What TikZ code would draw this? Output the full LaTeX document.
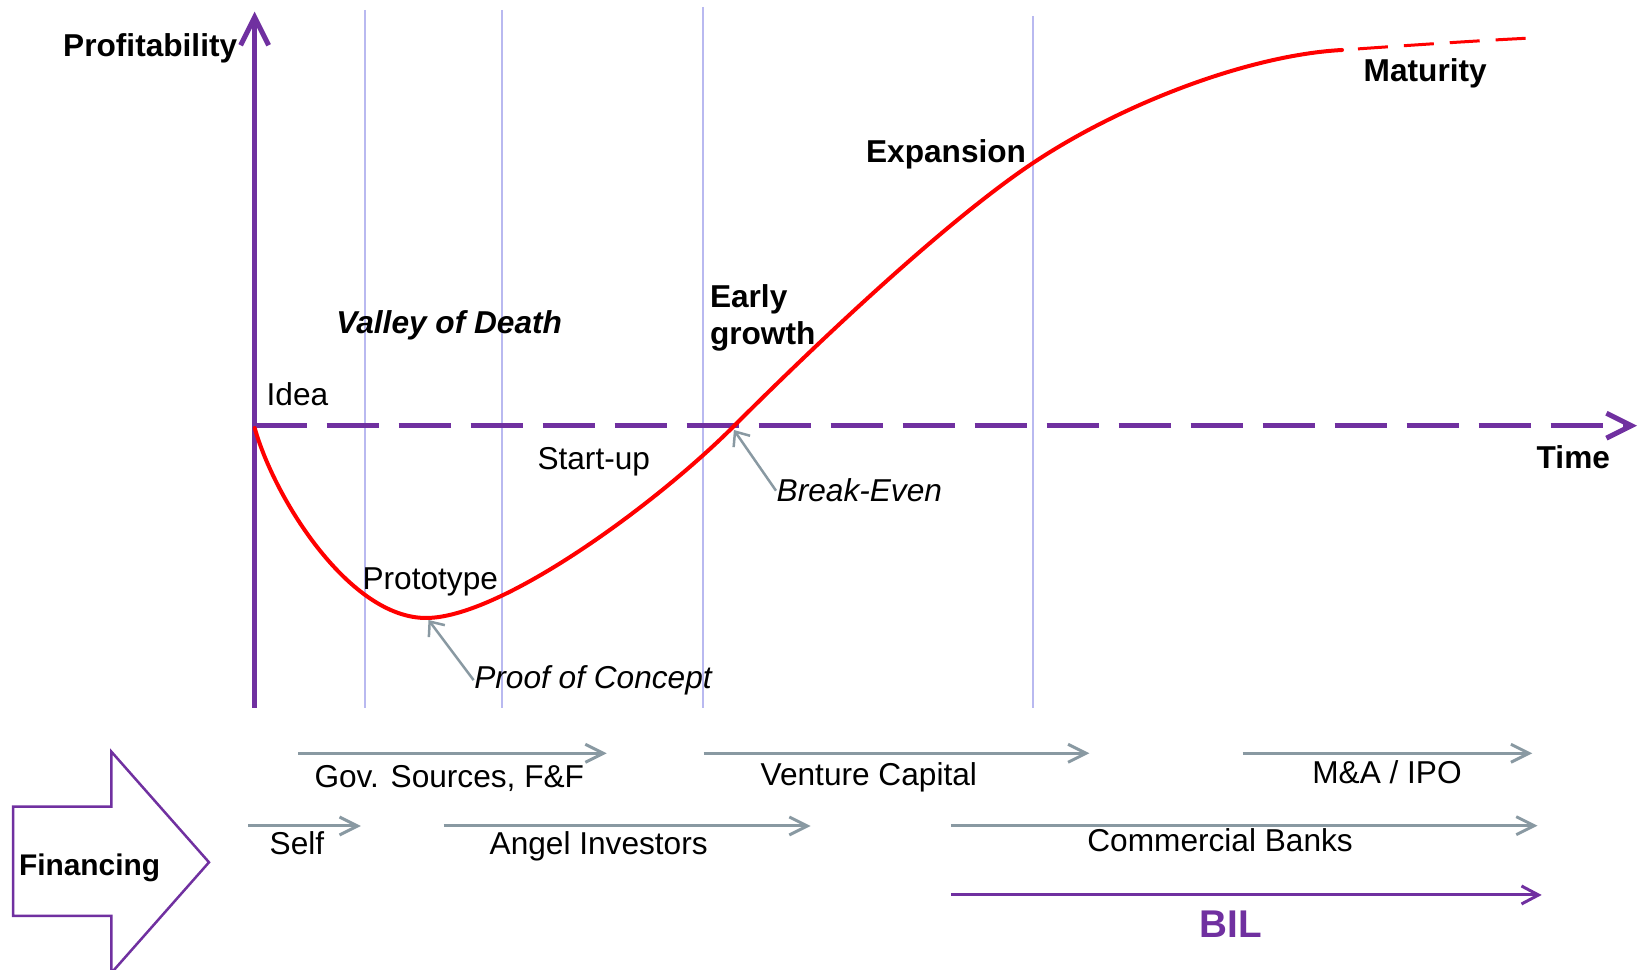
\documentclass[tikz,border=0pt]{standalone}
\usepackage{fontspec}
\setmainfont{Liberation Sans}
\usetikzlibrary{arrows.meta}
\definecolor{axispurple}{RGB}{112,48,160}
\definecolor{gridlav}{RGB}{185,185,240}
\definecolor{flowgray}{RGB}{137,153,162}
\definecolor{curvered}{RGB}{255,0,0}
\begin{document}
\begin{tikzpicture}[x=0.1mm,y=-0.1mm,
  lbl/.style={inner sep=0pt, anchor=base west, font=\fontsize{9pt}{11pt}\selectfont},
  blbl/.style={lbl, font=\fontsize{9pt}{11pt}\selectfont\bfseries},
  ilbl/.style={lbl, font=\fontsize{9pt}{11pt}\selectfont\itshape},
  bilbl/.style={lbl, font=\fontsize{9pt}{11pt}\selectfont\bfseries\itshape},
  stageline/.style={gridlav, line width=0.15mm},
  axisline/.style={axispurple, line width=0.5mm},
  flow/.style={flowgray, line width=0.3mm, -{Straight Barb[length=1.8mm,width=1.8mm]}},
  bilflow/.style={axispurple, line width=0.3mm, -{Straight Barb[length=1.7mm,width=1.8mm]}},
  pointer/.style={flowgray, line width=0.25mm, -{Straight Barb[length=1.2mm,width=2mm]}},
  ]
\clip (0,0) rectangle (1640,970);

% stage separators
\draw[stageline] (365,10) -- (365,708);
\draw[stageline] (502,10) -- (502,708);
\draw[stageline] (703,7) -- (703,708);
\draw[stageline] (1033,16) -- (1033,708);

% axes
\coordinate (origin) at (254.6,425.7);
\coordinate (ybottom) at (254.6,708);
\coordinate (ytop) at (254.6,11.7);
\coordinate (xend) at (1637,425.7);
\draw[axisline, -{Straight Barb[length=2.8mm,width=2.8mm]}] (ybottom) -- (ytop);
\draw[axisline, dash pattern=on 5.2mm off 2mm, -{Straight Barb[length=2.5mm,width=2.5mm]}] (origin) -- (xend);

% life-cycle curve: dip, break-even, growth, flattening
\coordinate (cstart) at (254.7,428);
\coordinate (cmin) at (426,618);
\coordinate (cbreak) at (734,426);
\coordinate (cexp) at (1033,163);
\coordinate (matstart) at (1342,50);
\coordinate (matend) at (1532,38);
\draw[curvered, line width=0.4mm, line join=round, line cap=round]
  (cstart) .. controls (275,500) and (350,618) .. (cmin)
  .. controls (500,618) and (654,506) .. (cbreak)
  .. controls (810,350) and (943,223) .. (cexp)
  .. controls (1123,103) and (1250,55) .. (matstart);
\draw[curvered, line width=0.3mm, dash pattern=on 3mm off 1.6mm, dash phase=3mm]
  (matstart) .. controls (1400,46) and (1470,41) .. (matend);

% stage labels
\node[blbl] (profit) at (62.5,56.7) {Profitability};
\node[bilbl] (valley) at (335.7,334) {Valley of Death};
\node[lbl] (idea) at (266,405.7) {Idea};
\node[blbl] (early) at (709.3,308) {Early};
\node[blbl] (growth) at (709.3,345) {growth};
\node[blbl] (expansion) at (865.4,163) {Expansion};
\node[blbl] (maturity) at (1363,81.7) {Maturity};
\node[blbl] (time) at (1536,469) {Time};
\node[lbl] (startup) at (536.8,470) {Start-up};
\node[lbl] (proto) at (361.9,590) {Prototype};
\node[ilbl] (breakeven) at (776,502) {Break-Even};
\node[ilbl] (proof) at (473.6,688.3) {Proof of Concept};

% pointers onto the curve
\coordinate (bepoint) at (733.9,430);
\coordinate (pocpoint) at (428.5,620);
\draw[pointer] (breakeven.west) -- (bepoint);
\draw[pointer] (proof.west) -- (pocpoint);

% financing block
\draw[axispurple, line width=0.25mm, line join=miter, fill=white]
  (13,806.7) -- (111.4,806.7) -- (111.4,751.7) -- (209,862.3)
  -- (111.4,972.9) -- (111.4,916) -- (13,916) -- cycle;
\node[lbl, font=\fontsize{8.5pt}{10pt}\selectfont\bfseries] (financing) at (18.3,875.7) {Financing};

% financing sources
\coordinate (govA) at (298,753.3);   \coordinate (govB) at (606.7,753.3);
\coordinate (vcA) at (703.5,753.3);  \coordinate (vcB) at (1089.4,753.3);
\coordinate (maA) at (1242.6,753.3); \coordinate (maB) at (1532.3,753.3);
\coordinate (selfA) at (248.4,826);  \coordinate (selfB) at (360.9,826);
\coordinate (angA) at (443.5,826);   \coordinate (angB) at (810.7,826);
\coordinate (cbA) at (950.8,825.7);  \coordinate (cbB) at (1537.6,825.7);
\coordinate (bilA) at (950.8,895);   \coordinate (bilB) at (1541.7,895);
\draw[flow] (govA) -- (govB);
\draw[flow] (vcA) -- (vcB);
\draw[flow] (maA) -- (maB);
\draw[flow] (selfA) -- (selfB);
\draw[flow] (angA) -- (angB);
\draw[flow] (cbA) -- (cbB);
\draw[bilflow] (bilA) -- (bilB);

\node[lbl] (gov) at (313.8,787.3) {Gov. Sources, F\&F};
\node[lbl] (vc) at (760,786) {Venture Capital};
\node[lbl] (ma) at (1311.6,783.3) {M\&A / IPO};
\node[lbl] (self) at (269,855) {Self};
\node[lbl] (angel) at (489,855) {Angel Investors};
\node[lbl] (banks) at (1086.7,851.7) {Commercial Banks};
\node[lbl, text=axispurple, font=\fontsize{11pt}{13pt}\selectfont\bfseries] (bil) at (1199,937.3) {BIL};
\end{tikzpicture}
\end{document}
